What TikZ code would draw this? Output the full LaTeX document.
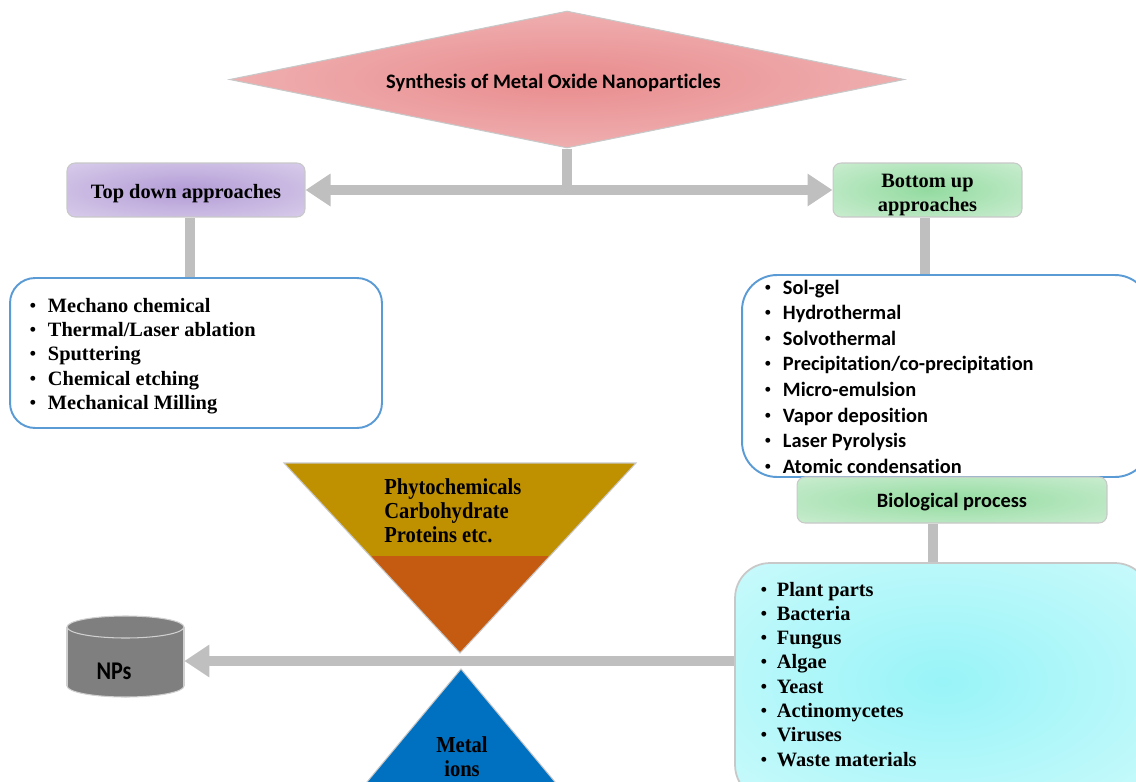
\documentclass[tikz,border=0pt]{standalone}
\usepackage{fontspec}
\setmainfont{Liberation Serif}
\newfontfamily\calibri[Ligatures=NoCommon]{Carlito}
\newfontfamily\bulletfont{Liberation Serif}
\newfontfamily\condserif[FakeStretch=0.9]{Liberation Serif}
\newfontfamily\condsans[FakeStretch=0.87]{Carlito}
\usetikzlibrary{shapes.geometric,arrows.meta}
\definecolor{pinkin}{HTML}{E98C8E}
\definecolor{pinkout}{HTML}{F5D0D0}
\definecolor{purpin}{HTML}{B39CD6}
\definecolor{purpout}{HTML}{E6DFF2}
\definecolor{greenin}{HTML}{93DBA0}
\definecolor{greenout}{HTML}{E0F4E3}
\definecolor{cyanin}{HTML}{98F4F8}
\definecolor{cyanout}{HTML}{DDFCFC}
\definecolor{connc}{HTML}{BFBFBF}
\definecolor{edgec}{HTML}{C8C8C8}
\definecolor{listblue}{HTML}{5B9BD5}
\definecolor{gold}{HTML}{BF9000}
\definecolor{rust}{HTML}{C55A11}
\definecolor{ionblue}{HTML}{0070C0}
\definecolor{cylgray}{HTML}{7F7F7F}
\definecolor{cyledge}{HTML}{D0D0D0}
\pgfdeclareradialshading{pinkshade}{\pgfpoint{0bp}{0bp}}{color(0bp)=(pinkin); color(50bp)=(pinkout); color(100bp)=(pinkout)}
\pgfdeclareradialshading{purpshade}{\pgfpoint{0bp}{0bp}}{color(0bp)=(purpin); color(50bp)=(purpout); color(100bp)=(purpout)}
\pgfdeclareradialshading{greenshade}{\pgfpoint{0bp}{0bp}}{color(0bp)=(greenin); color(50bp)=(greenout); color(100bp)=(greenout)}
\pgfdeclareradialshading{cyanshade}{\pgfpoint{0bp}{0bp}}{color(0bp)=(cyanin); color(50bp)=(cyanout); color(100bp)=(cyanout)}
\newcommand{\bul}[1]{\makebox[#1][l]{\bulletfont\mdseries\textbullet}}
\tikzset{
  conn/.style={draw=connc, line width=0.2cm},
  tipA/.tip={Triangle[length=0.5cm,width=0.62cm]},
  smallbox/.style={rectangle, rounded corners=0.16cm, draw=edgec, line width=0.6pt, inner sep=0pt},
  listbox/.style={rectangle, draw=listblue, line width=1.1pt, fill=white, inner sep=0pt},
  sertext/.style={font=\bfseries\fontsize{11.6}{13.9}\selectfont},
  santext/.style={font=\calibri\bfseries\fontsize{11.6}{14.6}\selectfont},
  listtext/.style={anchor=base west, inner sep=0pt},
}
\begin{document}
\begin{tikzpicture}[x=0.02cm,y=-0.02cm]
\useasboundingbox (0,0) rectangle (1136,781);
\clip (0,0) rectangle (1136,781);

% main diamond
\node[diamond, shading=pinkshade, draw=edgec, line width=0.6pt, minimum width=13.5cm, minimum height=2.74cm, inner sep=0pt] (synth) at (567,79.5) {};
\node[font=\calibri\bfseries\fontsize{11.7}{14}\selectfont] (title) at (553.5,82.5) {Synthesis of Metal Oxide Nanoparticles};

% approach boxes
\node[smallbox, shading=purpshade, minimum width=4.76cm, minimum height=1.08cm] (topdown) at (186,190) {};
\node[sertext] (toptxt) at (186,194) {Top down approaches};
\node[smallbox, shading=greenshade, minimum width=3.78cm, minimum height=1.08cm] (bottomup) at (927.5,190) {};
\node[sertext, align=center, font=\bfseries\fontsize{11.6}{13.7}\selectfont] (bottxt) at (927.5,195) {Bottom up\\approaches};

% left list
\node[listbox, rounded corners=0.5cm, minimum width=7.44cm, minimum height=3.0cm] (leftlist) at (196,353) {};
\node[listtext, sertext] (lefttxt) at (29,312) {\begin{tabular}[t]{@{}l@{}}
\bul{10.6pt}Mechano chemical\\
\bul{10.6pt}Thermal/Laser ablation\\
\bul{10.6pt}Sputtering\\
\bul{10.6pt}Chemical etching\\
\bul{10.6pt}Mechanical Milling
\end{tabular}};

% right list
\node[listbox, rounded corners=0.7cm, minimum width=8.16cm, minimum height=4.04cm] (rightlist) at (946,376) {};
\node[listtext, santext] (righttxt) at (764,294) {\begin{tabular}[t]{@{}l@{}}
\bul{10.6pt}Sol-gel\\
\bul{10.6pt}Hydrothermal\\
\bul{10.6pt}Solvothermal\\
\bul{10.6pt}Precipitation/co-precipitation\\
\bul{10.6pt}Micro-emulsion\\
\bul{10.6pt}Vapor deposition\\
\bul{10.6pt}Laser Pyrolysis\\
\bul{10.6pt}Atomic condensation
\end{tabular}};

% biological process
\node[smallbox, shading=greenshade, minimum width=6.2cm, minimum height=0.92cm] (bio) at (952,500) {};
\node[santext] (biotxt) at (952,502) {Biological process};

% cyan list
\node[rectangle, rounded corners=0.7cm, draw=edgec, line width=1pt, shading=cyanshade, minimum width=8.3cm, minimum height=4.74cm] (cyan) at (942.5,681.5) {};
\node[listtext, sertext, font=\bfseries\fontsize{11.6}{13.83}\selectfont] (cyantxt) at (760,596) {\begin{tabular}[t]{@{}l@{}}
\bul{9.4pt}Plant parts\\
\bul{9.4pt}Bacteria\\
\bul{9.4pt}Fungus\\
\bul{9.4pt}Algae\\
\bul{9.4pt}Yeast\\
\bul{9.4pt}Actinomycetes\\
\bul{9.4pt}Viruses\\
\bul{9.4pt}Waste materials
\end{tabular}};

% triangles
\fill[gold] (284,463) -- (636,463) -- (550,556) -- (370,556) -- cycle;
\fill[rust] (370,556) -- (550,556) -- (460,653) -- cycle;
\draw[edgec, line width=0.6pt] (284,463) -- (636,463) -- (460,653) -- cycle;
\node[listtext, font=\condserif\bfseries\fontsize{13}{13.66}\selectfont] (phyto) at (384,494) {\begin{tabular}[t]{@{}l@{}}Phytochemicals\\Carbohydrate\\Proteins etc.\end{tabular}};
\filldraw[fill=ionblue, draw=edgec, line width=0.6pt] (461,669) -- (570,800) -- (352,800) -- cycle;
\node[align=center, font=\condserif\bfseries\fontsize{13}{13.66}\selectfont] (ions) at (462,757) {Metal\\ions};

% cylinder NPs
\filldraw[fill=cylgray, draw=cyledge, line width=0.6pt] (125.5,686) ellipse [x radius=1.17cm, y radius=0.22cm];
\fill[cylgray] (67,627) rectangle (184,686);
\draw[cyledge, line width=0.6pt] (67,627) -- (67,686) (184,627) -- (184,686);
\filldraw[fill=cylgray, draw=cyledge, line width=0.6pt] (125.5,627) ellipse [x radius=1.17cm, y radius=0.22cm];
\node[inner sep=0pt, minimum width=2.34cm, minimum height=1.8cm] (nps) at (125.5,661) {};
\node[font=\condsans\bfseries\fontsize{14.5}{16}\selectfont] (npstxt) at (114,671) {NPs};

% connectors
\coordinate (junc) at (synth.south |- topdown.east);
\draw[conn] (synth.south) -- (junc);
\draw[conn, tipA-tipA] (topdown.east) -- (bottomup.west);
\draw[conn] ([xshift=0.08cm]topdown.south) -- ([xshift=0.08cm]topdown.south |- leftlist.north);
\draw[conn] ([xshift=-0.05cm]bottomup.south) -- ([xshift=-0.05cm]bottomup.south |- rightlist.north);
\draw[conn] ([xshift=-0.38cm]bio.south) -- ([xshift=-0.38cm]bio.south |- cyan.north);
\draw[conn, -tipA] (cyan.west |- nps.east) -- (nps.east);
\end{tikzpicture}
\end{document}
